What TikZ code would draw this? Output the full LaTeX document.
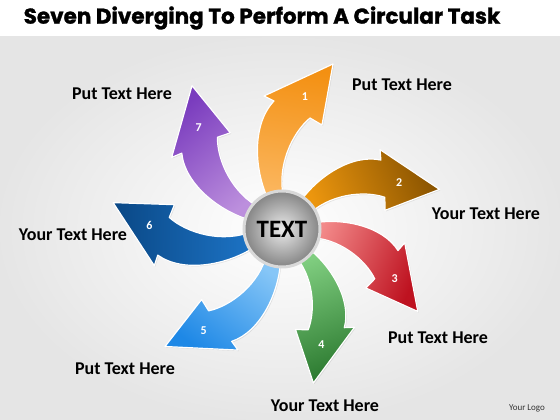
\documentclass[tikz,border=0pt]{standalone}
\usepackage{fontspec}
\setmainfont{Carlito}
\newfontfamily\titlefont{Poppins}[FakeBold=1.2]
\usetikzlibrary{shadows}
\definecolor{orangeL}{HTML}{FBB65E}
\definecolor{orangeD}{HTML}{F39012}
\definecolor{brownL}{HTML}{EC960E}
\definecolor{brownD}{HTML}{8A5400}
\definecolor{redL}{HTML}{F38A8A}
\definecolor{redD}{HTML}{BE1220}
\definecolor{greenL}{HTML}{80CE80}
\definecolor{greenD}{HTML}{2C7A30}
\definecolor{skyL}{HTML}{86C6F7}
\definecolor{skyD}{HTML}{1E88E6}
\definecolor{navyL}{HTML}{1D74C6}
\definecolor{navyD}{HTML}{0A4886}
\definecolor{violetL}{HTML}{BC8FDD}
\definecolor{violetD}{HTML}{7A3CBE}

\begin{document}
\begin{tikzpicture}[x=1pt,y=1pt,
	arrowpath/.style={draw=white,line width=1.2pt,line join=round,drop shadow={opacity=0.2,shadow xshift=1pt,shadow yshift=-1pt}},
	numlabel/.style={text=white,font=\bfseries\fontsize{12}{12}\selectfont},
	textlabel/.style={font=\bfseries\fontsize{18}{18}\selectfont}]
	\useasboundingbox (-282,-191) rectangle (278,229);
	\fill[white] (-282,-191) rectangle (278,229);
	\shade[inner color=white,outer color=black!10] (-282,-191) rectangle (278,192);
	\node[font=\titlefont\bfseries\fontsize{21.5}{21.5}\selectfont] (title) at (-20,211) {Seven Diverging To Perform A Circular Task};
	\foreach \rot/\sc/\lite/\dark/\num in {0/1.00/orangeL/orangeD/1,-58.7/0.94/brownL/brownD/2,-104.1/0.92/redL/redD/3,-151.3/0.91/greenL/greenD/4,152.3/0.96/skyL/skyD/5,98.3/0.99/navyL/navyD/6,49.3/0.98/violetL/violetD/7}{
		\pgfmathsetmacro\sang{\rot-9}
		\begin{scope}[rotate=\rot,scale=\sc]
			\shadedraw[arrowpath,bottom color=\lite,top color=\dark,shading angle=\sang] (-14,30) .. controls (-28,60) and (-30,105) .. (-8,128) -- (-18,133) -- (51,165) -- (40,104) -- (28,111) .. controls (10,96) and (-6,62) .. (2,30) -- cycle;
			\node[numlabel] (n\num) at (23,132) {\num};
		\end{scope}
	}
	\node[circle,minimum size=76,inner color=black!8,outer color=black!48,draw=white!85!black,line width=3pt,font=\bfseries\fontsize{25}{25}\selectfont] (hub) at (0,0) {TEXT};
	\node[textlabel] (t1) at (120,144) {Put Text Here};
	\node[textlabel] (t2) at (204,15) {Your Text Here};
	\node[textlabel] (t3) at (156,-109) {Put Text Here};
	\node[textlabel] (t4) at (43,-177) {Your Text Here};
	\node[textlabel] (t5) at (-157,-140) {Put Text Here};
	\node[textlabel] (t6) at (-209,-6) {Your Text Here};
	\node[textlabel] (t7) at (-160,135) {Put Text Here};
	\node[font=\fontsize{9}{9}\selectfont,text=black!80] (logo) at (245,-179) {Your Logo};
\end{tikzpicture}
\end{document}
